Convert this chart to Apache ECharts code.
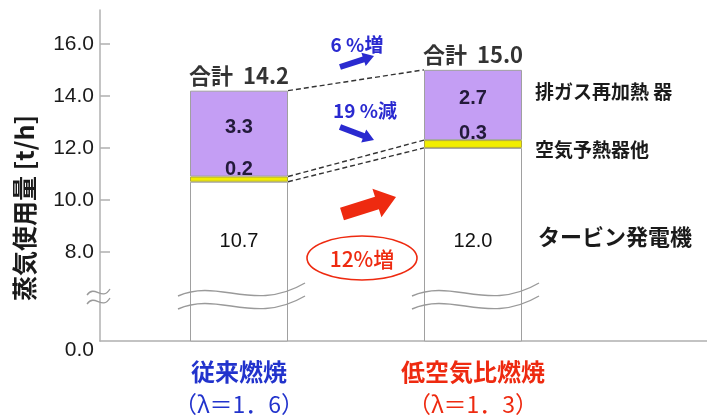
<!DOCTYPE html>
<html>
<head>
<meta charset="utf-8">
<script src="https://cdn.jsdelivr.net/npm/echarts@6/dist/echarts.min.js"></script>
<style>
html,body{margin:0;padding:0;background:#fff;}
#chart{width:707px;height:418px;}
</style>
</head>
<body>
<div id="chart"></div>
<script>
// ---- data ----
const categories = ['従来燃焼', '低空気比燃焼'];
const lambdaTexts = ['（λ＝1．6）', '（λ＝1．3）'];
const turbineGen = [10.7, 12.0];
const airPreheater = [0.2, 0.3];
const exhaustReheater = [3.3, 2.7];
const totals = [14.2, 15.0];
const yTickValues = [8, 10, 12, 14, 16];
const yBottomLabel = '0.0';
const seriesNames = ['タービン発電機', '空気予熱器他', '排ガス再加熱 器'];
const changeTexts = ['6 %増', '19 %減', '12%増'];
const yAxisTitle = '蒸気使用量 [t/h]';

// ---- layout ----
const FONT = '"Noto Sans CJK JP", "Noto Sans", sans-serif';
const NUMFONT = 'Arial, "Liberation Sans", sans-serif';
const W = 707;
const yMin = 4.58, yMax = 17.3;          // broken axis: axis bottom is shown as 0.0
const gridTop = 10, gridBottom = 77;
const frameLeft = 100;                    // y axis line position
const catWidth = 234;                     // pixel width of one category band
const barsLeft = 122;                     // left edge of the category bands
const barWidthPx = 98;
const nCats = categories.length;
// value x scale for the frame grid, aligned so that category i sits at x = i + 1
const xMin = 1 - (barsLeft + catWidth / 2 - frameLeft) / catWidth;
const xMax = xMin + (W - frameLeft) / catWidth;
const halfBar = barWidthPx / 2 / catWidth;
const barX = categories.map((c, i) => i + 1);

const chart = echarts.init(document.getElementById('chart'), null, {renderer: 'canvas'});

const airTop = turbineGen.map((v, i) => v + airPreheater[i]);

const dashStyle = {color: '#333', width: 1.4, type: [5, 3]};
function dashLine(a, b) {
  return {
    type: 'line', xAxisIndex: 0, yAxisIndex: 0, symbol: 'none', silent: true, z: 5,
    lineStyle: dashStyle,
    data: [[barX[0] + halfBar, a], [barX[1] - halfBar, b]]
  };
}

function arrow(x1, y1, x2, y2, bw, hw, hl) {
  const dx = x2 - x1, dy = y2 - y1, L = Math.hypot(dx, dy);
  const ux = dx / L, uy = dy / L, nx = -uy, ny = ux;
  const bx = x2 - ux * hl, by = y2 - uy * hl;
  return [
    [x1 + nx * bw / 2, y1 + ny * bw / 2], [bx + nx * bw / 2, by + ny * bw / 2],
    [bx + nx * hw / 2, by + ny * hw / 2], [x2, y2],
    [bx - nx * hw / 2, by - ny * hw / 2], [bx - nx * bw / 2, by - ny * bw / 2],
    [x1 - nx * bw / 2, y1 - ny * bw / 2]
  ];
}

const axisGray = {color: '#b0b0b0', width: 1.5};
const segLabel = {fontSize: 20, fontWeight: 'bold', color: '#231a3a', fontFamily: NUMFONT};

const option = {
  animation: false,
  backgroundColor: '#fff',
  textStyle: {fontFamily: FONT},
  grid: [
    {left: frameLeft, right: 0, top: gridTop, bottom: gridBottom},
    {left: barsLeft, width: catWidth * nCats, top: gridTop, bottom: gridBottom}
  ],
  xAxis: [
    {
      gridIndex: 0, type: 'value', min: xMin, max: xMax,
      axisLine: {show: true, lineStyle: axisGray},
      axisTick: {show: false}, splitLine: {show: false}, axisLabel: {show: false}
    },
    {
      gridIndex: 1, type: 'category', data: categories,
      axisLine: {show: false}, axisTick: {show: false}, splitLine: {show: false},
      axisLabel: {
        margin: 15, interval: 0,
        formatter: function (v, i) {
          return '{n' + i + '|' + v + '}\n{l' + i + '|' + lambdaTexts[i] + '}';
        },
        rich: {
          n0: {color: '#2233cc', fontSize: 24, fontWeight: 'bold', fontFamily: FONT, lineHeight: 32},
          l0: {color: '#2233cc', fontSize: 23, fontFamily: FONT, lineHeight: 32},
          n1: {color: '#ee2a10', fontSize: 24, fontWeight: 'bold', fontFamily: FONT, lineHeight: 32},
          l1: {color: '#ee2a10', fontSize: 23, fontFamily: FONT, lineHeight: 32}
        }
      }
    }
  ],
  yAxis: [
    {
      gridIndex: 0, type: 'value', min: yMin, max: yMax,
      axisLine: {show: true, lineStyle: axisGray},
      axisTick: {show: true, inside: true, length: 10, customValues: yTickValues, lineStyle: axisGray},
      splitLine: {show: false},
      axisLabel: {
        customValues: [yMin].concat(yTickValues),
        margin: 6, color: '#1a1a1a', fontSize: 21, fontFamily: NUMFONT,
        formatter: function (v) { return v === yMin ? '{z|' + yBottomLabel + '}' : v.toFixed(1); },
        rich: {z: {fontSize: 21, color: '#1a1a1a', fontFamily: NUMFONT, padding: [18, 0, 0, 0]}}
      }
    },
    {
      gridIndex: 1, type: 'value', min: yMin, max: yMax, show: false
    }
  ],
  series: [
    {
      name: seriesNames[0], type: 'bar', xAxisIndex: 1, yAxisIndex: 1, stack: 'total', barWidth: barWidthPx, z: 2,
      itemStyle: {color: '#ffffff', borderColor: '#a0a0a0', borderWidth: 1},
      label: {show: true, position: 'insideBottom', distance: 90, fontSize: 20, color: '#111', fontFamily: NUMFONT,
        formatter: p => p.value.toFixed(1)},
      data: turbineGen
    },
    {
      name: seriesNames[1], type: 'bar', xAxisIndex: 1, yAxisIndex: 1, stack: 'total', barWidth: barWidthPx, z: 3,
      itemStyle: {color: '#f2ee00', borderColor: '#b0a840', borderWidth: 1},
      label: Object.assign({show: true, position: 'top', distance: -3, formatter: p => p.value.toFixed(1)}, segLabel),
      data: airPreheater
    },
    {
      name: seriesNames[2], type: 'bar', xAxisIndex: 1, yAxisIndex: 1, stack: 'total', barWidth: barWidthPx, z: 2,
      itemStyle: {color: '#c49ef4', borderColor: '#a0a0a0', borderWidth: 1},
      label: Object.assign({show: true, position: 'inside', offset: [0, -6], formatter: p => p.value.toFixed(1)}, segLabel),
      data: exhaustReheater
    },
    {
      name: 'total', type: 'scatter', xAxisIndex: 0, yAxisIndex: 0, symbolSize: 0, silent: true, z: 6,
      label: {show: true, position: 'top', distance: 4, fontSize: 22, fontWeight: 'bold', color: '#000', fontFamily: FONT,
        formatter: p => '合計  ' + p.value[1].toFixed(1)},
      data: barX.map((x, i) => [x, totals[i]])
    },
    dashLine(totals[0], totals[1]),
    dashLine(airTop[0], airTop[1]),
    dashLine(turbineGen[0], turbineGen[1])
  ]
};
chart.setOption(option);

// ---- annotations ----
const g = [];
g.push({type: 'text', x: 24, y: 208, rotation: Math.PI / 2,
  style: {text: yAxisTitle, font: 'bold 25px ' + FONT, fill: '#1a1a1a', align: 'center', verticalAlign: 'middle'}});
g.push({type: 'text', x: 535, y: 92, style: {text: seriesNames[2], font: 'bold 19px ' + FONT, fill: '#1a1a1a', align: 'left', verticalAlign: 'middle'}});
g.push({type: 'text', x: 535, y: 150, style: {text: seriesNames[1], font: 'bold 19px ' + FONT, fill: '#1a1a1a', align: 'left', verticalAlign: 'middle'}});
g.push({type: 'text', x: 538, y: 237, style: {text: seriesNames[0], font: 'bold 22px ' + FONT, fill: '#1a1a1a', align: 'left', verticalAlign: 'middle'}});
g.push({type: 'text', x: 357, y: 45, style: {text: changeTexts[0], font: 'bold 19px ' + FONT, fill: '#2a2ad0', align: 'center', verticalAlign: 'middle'}});
g.push({type: 'polygon', shape: {points: arrow(340, 67, 374, 56, 6, 14, 11)}, style: {fill: '#2a2ad0'}});
g.push({type: 'text', x: 365, y: 111, style: {text: changeTexts[1], font: 'bold 19px ' + FONT, fill: '#2a2ad0', align: 'center', verticalAlign: 'middle'}});
g.push({type: 'polygon', shape: {points: arrow(340, 127, 374, 140, 6, 14, 11)}, style: {fill: '#2a2ad0'}});
g.push({type: 'polygon', shape: {points: arrow(342, 214, 396, 197, 13, 30, 20)}, style: {fill: '#ee2a10'}});
g.push({type: 'ellipse', shape: {cx: 362, cy: 258, rx: 55, ry: 22}, style: {fill: 'none', stroke: '#ee2a10', lineWidth: 1.6}});
g.push({type: 'text', x: 362, y: 259, style: {text: changeTexts[2], font: '500 21px ' + FONT, fill: '#ee2a10', align: 'center', verticalAlign: 'middle'}});
barX.forEach(function (x) {
  const c = chart.convertToPixel({xAxisIndex: 0}, x);
  const x1 = c - 61, x2 = c + 66;
  [[296, 283], [309, 296]].forEach(function (ys) {
    g.push({type: 'bezierCurve', z: 10,
      shape: {x1: x1, y1: ys[0], cpx1: c - 20, cpy1: ys[0] - 18, cpx2: c + 15, cpy2: ys[1] + 30, x2: x2, y2: ys[1]},
      style: {stroke: '#9a9a9a', lineWidth: 1.4, fill: 'none'}});
  });
});
[292, 301].forEach(function (y) {
  g.push({type: 'bezierCurve', z: 10,
    shape: {x1: 87, y1: y + 3, cpx1: 95, cpy1: y - 8, cpx2: 102, cpy2: y + 10, x2: 110, y2: y - 3},
    style: {stroke: '#9a9a9a', lineWidth: 1.3, fill: 'none'}});
});
chart.setOption({graphic: g});
</script>
</body>
</html>
